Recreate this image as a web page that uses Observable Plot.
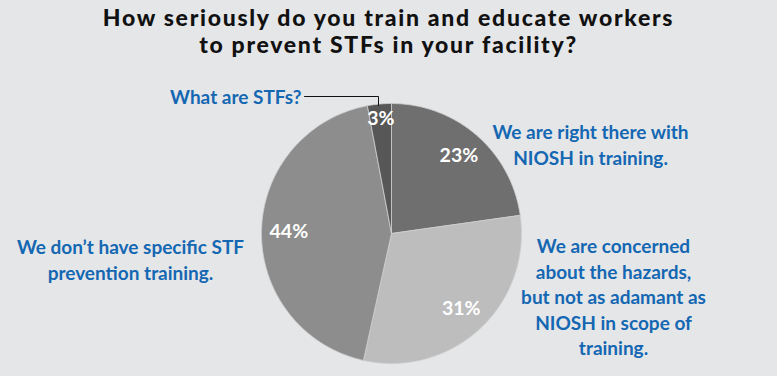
<!DOCTYPE html>
<html>
<head>
<meta charset="utf-8">
<script src="https://cdn.jsdelivr.net/npm/d3@7"></script>
<script src="https://cdn.jsdelivr.net/npm/@observablehq/plot@0.6"></script>
<style>
  html, body { margin: 0; padding: 0; background: #e5e6e8; }
  #wrap { width: 777px; height: 376px; overflow: hidden; position: relative; }
  #title { height: 62px; box-sizing: border-box; padding-top: 4px; text-align: center;
    font-family: Lato, sans-serif; font-weight: 900; font-size: 23px; line-height: 27px; color: #111; letter-spacing: 1.7px; }
  svg { display: block; }
</style>
</head>
<body>
<div id="wrap">
  <div id="title">How seriously do you train and educate workers<br>to prevent STFs in your facility?</div>
  <div id="chart"></div>
</div>
<script>
// ---- data (clockwise from 12 o'clock) ----
const categories = [
  "We are right there with NIOSH in training.",
  "We are concerned about the hazards, but not as adamant as NIOSH in scope of training.",
  "We don't have specific STF prevention training.",
  "What are STFs?"
];
const values = [23, 31, 44, 3];
const valueLabels = ["23%", "31%", "44%", "3%"];
const sliceColors = ["#6f6f6f", "#bdbdbd", "#8d8d8d", "#575757"];

// ---- layout (page pixels) ----
const W = 777, TITLE_H = 62, H = 376 - TITLE_H;
const CX = 391, CY = 233, R = 130;
const px = v => (v - CX) / R;          // page pixel x -> data x
const py = v => (CY - v) / R;          // page pixel y -> data y

const pie = d3.pie().sort(null).value(d => d)(values);
const slices = pie.map((p, i) => {
  const pts = [{x: 0, y: 0}];
  const steps = Math.max(4, Math.ceil((p.endAngle - p.startAngle) / (Math.PI / 180)));
  for (let k = 0; k <= steps; k++) {
    const a = p.startAngle + (p.endAngle - p.startAngle) * k / steps;
    pts.push({x: Math.sin(a), y: Math.cos(a)});
  }
  pts.push({x: 0, y: 0});
  const mid = (p.startAngle + p.endAngle) / 2;
  const lr = values[i] < 5 ? 0.885 : 0.79;
  return {pts, color: sliceColors[i], label: valueLabels[i], lx: lr * Math.sin(mid), ly: lr * Math.cos(mid)};
});

const endLabels = [
  {text: categories[3], x: px(301), y: py(97)}
];
const midLabels = [
  {text: "We are right there with\nNIOSH in training.", x: px(590), y: py(143.5)},
  {text: "We don\u2019t have specific STF\nprevention training.", x: px(130), y: py(258.5)},
  {text: "We are concerned\nabout the hazards,\nbut not as adamant as\nNIOSH in scope of\ntraining.", x: px(613), y: py(295.5)}
];
const leader = [{x: px(304), y: py(96)}, {x: px(378), y: py(96)}, {x: px(378), y: py(105)}];

const blue = "#1467b2";
const chart = Plot.plot({
  width: W, height: H,
  margin: 0,
  style: {background: "transparent", fontFamily: "Lato, sans-serif"},
  x: {domain: [px(0), px(W)], range: [0, W], axis: null},
  y: {domain: [py(TITLE_H + H), py(TITLE_H)], range: [H, 0], axis: null},
  marks: [
    ...slices.map(s => Plot.line(s.pts, {x: "x", y: "y", fill: s.color, stroke: "#cfcfcf", strokeWidth: 0.8, curve: "linear"})),
    Plot.text(slices, {x: "lx", y: "ly", text: "label", fill: "white", fontSize: 19.5, fontWeight: 700}),
    Plot.line(leader, {x: "x", y: "y", stroke: "#111", strokeWidth: 1}),
    Plot.text(endLabels, {x: "x", y: "y", text: "text", textAnchor: "end", fill: blue, fontSize: 19, fontWeight: 700}),
    Plot.text(midLabels, {x: "x", y: "y", text: "text", textAnchor: "middle", fill: blue, fontSize: 19, fontWeight: 700, lineHeight: 1.34})
  ]
});
document.getElementById("chart").appendChild(chart);
</script>
</body>
</html>
